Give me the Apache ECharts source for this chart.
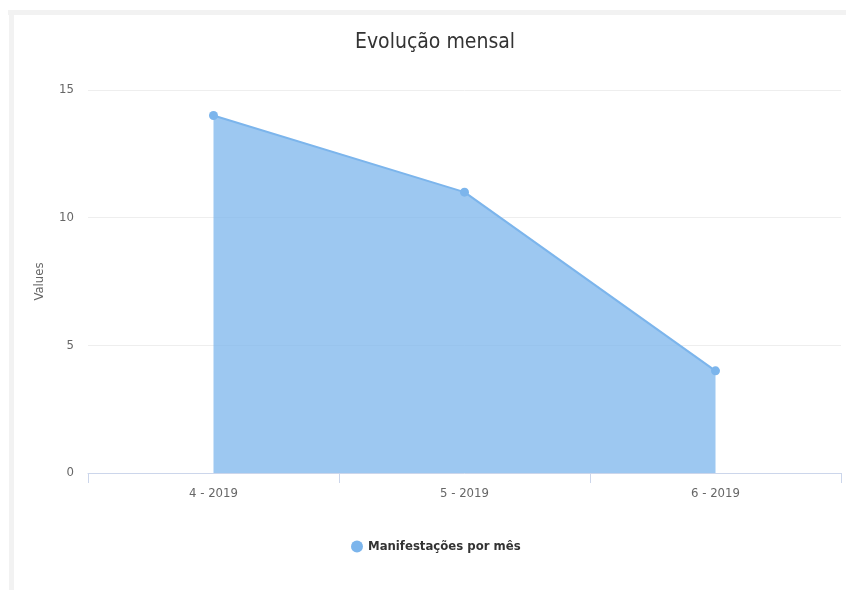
<!DOCTYPE html>
<html>
<head>
<meta charset="utf-8">
<script src="https://cdn.jsdelivr.net/npm/echarts@6/dist/echarts.min.js"></script>
<style>
  html, body { margin: 0; padding: 0; background: #fff; }
  #chart { width: 846px; height: 590px; }
</style>
</head>
<body>
<div id="chart"></div>
<script>
const months = ['4 - 2019', '5 - 2019', '6 - 2019'];
const manifestacoes = [14, 11, 4];
const seriesName = 'Manifestações por mês';

const font = '"DejaVu Sans Condensed", "Liberation Sans Narrow", "Noto Sans", sans-serif';

const chart = echarts.init(document.getElementById('chart'));

const option = {
  backgroundColor: '#fff',
  textStyle: { fontFamily: font },
  title: {
    text: 'Evolução mensal',
    left: 350,
    top: 27,
    textStyle: { fontFamily: font, fontSize: 21, fontWeight: 'normal', color: '#333' }
  },
  graphic: [
    { type: 'rect', shape: { x: 8, y: 10, width: 838, height: 5 }, style: { fill: '#f2f2f2' } },
    { type: 'rect', shape: { x: 9, y: 10, width: 5, height: 580 }, style: { fill: '#f2f2f2' } }
  ],
  legend: {
    data: [seriesName],
    bottom: 32,
    left: 346,
    icon: 'circle',
    itemWidth: 12,
    itemHeight: 12,
    itemGap: 6,
    textStyle: { fontFamily: font, fontSize: 13, fontWeight: 'bold', color: '#333' }
  },
  grid: { left: 88, right: 5, top: 90, bottom: 117 },
  xAxis: {
    type: 'category',
    data: months,
    boundaryGap: true,
    axisLine: { lineStyle: { color: '#ccd6eb' } },
    axisTick: { show: true, length: 10, lineStyle: { color: '#ccd6eb' } },
    axisLabel: { color: '#666', fontSize: 13, margin: 14, fontFamily: font },
    splitLine: { show: false }
  },
  yAxis: {
    type: 'value',
    min: 0,
    max: 15,
    interval: 5,
    name: 'Values',
    nameLocation: 'middle',
    nameGap: 42,
    nameTextStyle: { color: '#666', fontSize: 13, fontFamily: font },
    axisLine: { show: false },
    axisTick: { show: false },
    axisLabel: { color: '#666', fontSize: 13, margin: 14, fontFamily: font },
    splitLine: { lineStyle: { color: '#eeeeee' } }
  },
  series: [{
    name: seriesName,
    type: 'line',
    data: manifestacoes,
    symbol: 'circle',
    symbolSize: 9,
    color: '#7cb5ec',
    lineStyle: { color: '#7cb5ec', width: 2 },
    itemStyle: { color: '#7cb5ec' },
    areaStyle: { color: '#7cb5ec', opacity: 0.75 },
    emphasis: { disabled: true }
  }]
};

chart.setOption(option);
</script>
</body>
</html>
